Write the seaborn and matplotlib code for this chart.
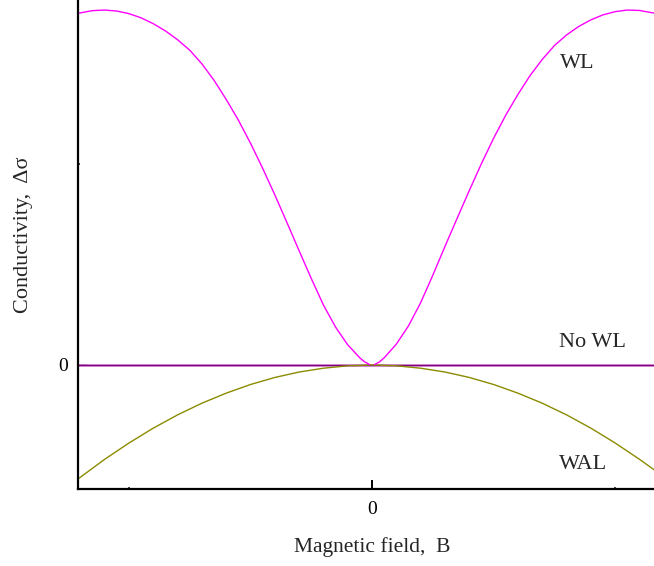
import matplotlib
matplotlib.use("Agg")
import matplotlib.pyplot as plt
import seaborn as sns
import pandas as pd
from matplotlib.ticker import FixedLocator

# ---- data ----
wl_left_B = [-1.21, -1.15, -1.10, -1.05, -1.00, -0.95, -0.90, -0.85, -0.80, -0.75,
             -0.70, -0.65, -0.60, -0.55, -0.50, -0.45, -0.40, -0.35, -0.30, -0.25,
             -0.20, -0.15, -0.10, -0.05, -0.03, -0.01]
wl_left_val = [1.750, 1.763, 1.766, 1.761, 1.748, 1.727, 1.698, 1.662, 1.618, 1.566,
               1.498, 1.416, 1.321, 1.218, 1.103, 0.978, 0.846, 0.708, 0.568, 0.430,
               0.298, 0.188, 0.100, 0.035, 0.015, 0.002]
wl_right_B = [0.01, 0.03, 0.05, 0.10, 0.15, 0.20, 0.25, 0.30, 0.35, 0.40, 0.45, 0.50,
              0.55, 0.60, 0.65, 0.70, 0.75, 0.80, 0.85, 0.90, 0.95, 1.00, 1.05, 1.10, 1.16]
wl_right_val = [0.002, 0.015, 0.036, 0.104, 0.195, 0.310, 0.447, 0.590, 0.730, 0.868,
                1.002, 1.128, 1.243, 1.346, 1.440, 1.520, 1.589, 1.642, 1.684, 1.717,
                1.742, 1.758, 1.766, 1.764, 1.751]

nowl_B = [-1.21, 1.16]
nowl_val = [0.0, 0.0]

wal_B = [-1.21, -1.1, -1.0, -0.9, -0.8, -0.7, -0.6, -0.5, -0.4, -0.3, -0.2, -0.1, 0.0,
         0.1, 0.2, 0.3, 0.4, 0.5, 0.6, 0.7, 0.8, 0.9, 1.0, 1.1, 1.16]
wal_val = [-0.567, -0.469, -0.388, -0.314, -0.248, -0.190, -0.140, -0.097, -0.062,
           -0.035, -0.016, -0.004, 0.0, -0.004, -0.016, -0.035, -0.062, -0.097,
           -0.140, -0.190, -0.248, -0.314, -0.388, -0.469, -0.521]

curve_labels = ["WL", "No WL", "WAL"]
xtick_vals = [0]
ytick_vals = [0]
tick_labels = ["0"]

# ---- plotting ----
sns.set_style("white")
plt.rcParams["font.family"] = ["Liberation Serif", "DejaVu Serif"]

fig = plt.figure(figsize=(6.54, 5.66), dpi=100)
ax = fig.add_axes([78 / 654, 1 - 489 / 566, 576 / 654, 489 / 566])

df_nowl = pd.DataFrame({"B": nowl_B, "v": nowl_val})
sns.lineplot(data=df_nowl, x="B", y="v", ax=ax, color="#dda0dd", linewidth=2.0)
sns.lineplot(data=df_nowl, x="B", y="v", ax=ax, color="#800080", linewidth=1.0)

df_wal = pd.DataFrame({"B": wal_B, "v": wal_val})
sns.lineplot(data=df_wal, x="B", y="v", ax=ax, color="#8b8b00", linewidth=1.0)

df_wl_l = pd.DataFrame({"B": wl_left_B, "v": wl_left_val})
df_wl_r = pd.DataFrame({"B": wl_right_B, "v": wl_right_val})
sns.lineplot(data=df_wl_l, x="B", y="v", ax=ax, color="#ff00ff", linewidth=1.0, sort=False)
sns.lineplot(data=df_wl_r, x="B", y="v", ax=ax, color="#ff00ff", linewidth=1.0, sort=False)

ax.set_xlim(-1.21, 1.16)
ax.set_ylim(-0.617, 1.816)

for s in ["top", "right"]:
    ax.spines[s].set_visible(False)
for s in ["left", "bottom"]:
    ax.spines[s].set_linewidth(1.6)
    ax.spines[s].set_color("black")

ax.set_xticks(xtick_vals)
ax.set_xticklabels(tick_labels)
ax.set_yticks(ytick_vals)
ax.set_yticklabels(tick_labels)
ax.xaxis.set_minor_locator(FixedLocator([-1, 1]))
ax.yaxis.set_minor_locator(FixedLocator([1]))
ax.tick_params(axis="both", which="major", direction="in", length=6.5, width=1.4,
               labelsize=14, colors="black", bottom=True, left=True)
ax.tick_params(axis="x", which="major", pad=9)
ax.tick_params(axis="y", which="major", pad=7)
ax.tick_params(axis="both", which="minor", direction="in", length=1.5, width=1.2,
               bottom=True, left=True)

ax.set_xlabel("Magnetic field,  B", fontsize=15.5)
ax.set_ylabel("Conductivity,  Δσ", fontsize=16)
ax.xaxis.set_label_coords((372 - 78) / 576, (489 - 537) / 489)
ax.yaxis.set_label_coords((33 - 78) / 576, 0.52)

ax.text((577 - 372) / 243, (365 - 63) / 201, curve_labels[0], fontsize=16,
        ha="center", va="center")
ax.text((592 - 372) / 243, (365 - 343) / 201, curve_labels[1], fontsize=16,
        ha="center", va="center")
ax.text((583 - 372) / 243, (365 - 465) / 201, curve_labels[2], fontsize=16,
        ha="center", va="center")

fig.savefig("out.png", dpi=100)
